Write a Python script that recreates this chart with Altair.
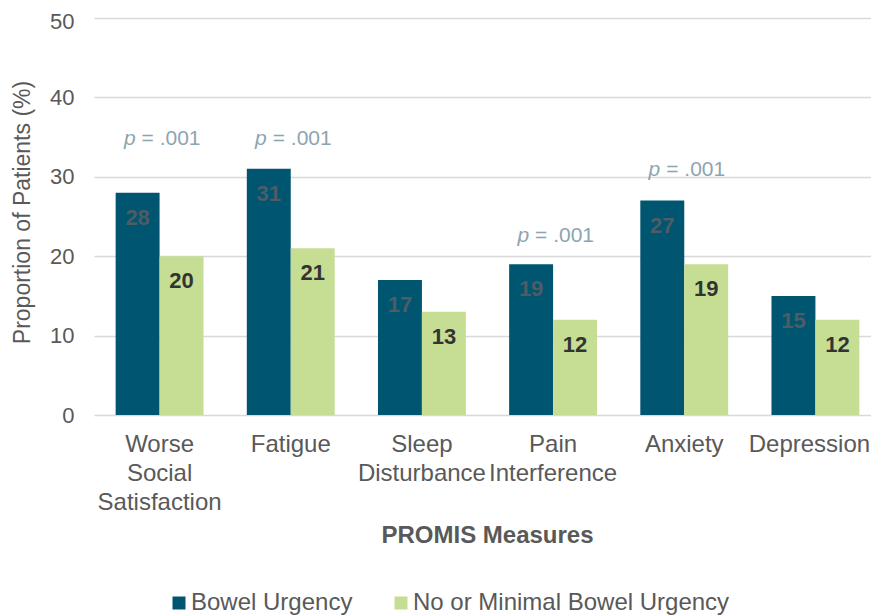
import altair as alt
import pandas as pd

# ---- data ----
categories = ["Worse|Social|Satisfaction", "Fatigue", "Sleep|Disturbance",
              "Pain|Interference", "Anxiety", "Depression"]
groups = ["Bowel Urgency", "No or Minimal Bowel Urgency"]
bowel_urgency = [28, 31, 17, 19, 27, 15]
minimal_urgency = [20, 21, 13, 12, 19, 12]

p_categories = ["Worse|Social|Satisfaction", "Fatigue", "Pain|Interference", "Anxiety"]
p_values = [".001", ".001", ".001", ".001"]
p_label_level = [34.8, 34.8, 22.5, 30.9]

colors = ["#005670", "#c6de93"]

rows = []
for c, b, m in zip(categories, bowel_urgency, minimal_urgency):
    rows.append({"category": c, "group": groups[0], "value": b})
    rows.append({"category": c, "group": groups[1], "value": m})
df = pd.DataFrame(rows)

pdf = pd.DataFrame({
    "category": p_categories,
    "level": p_label_level,
    "rest": ["= " + v for v in p_values],
    "p": ["p"] * len(p_categories),
})

FONT = "Liberation Sans"
GREY = "#595959"

x_enc = alt.X(
    "category:N", sort=categories,
    scale=alt.Scale(paddingInner=0.33, paddingOuter=0.165, range=[0, 787]),
    axis=alt.Axis(
        title="PROMIS Measures", labelAngle=0, labelFontSize=24, labelColor=GREY,
        labelFont=FONT, labelExpr="split(datum.label, '|')", labelLineHeight=29,
        labelPadding=17, labelBaseline="top", domain=False, ticks=False,
        labelOffset={"condition": {"test": "datum.value === 'Depression'", "value": -6},
                     "value": 0},
        titleFontSize=24, titleFont=FONT, titleFontWeight="bold", titleColor=GREY,
        titleX=393, titleY=120, titleBaseline="middle", titleAlign="center",
    ),
)
xo_enc = alt.XOffset("group:N", sort=groups,
                     scale=alt.Scale(paddingInner=0, paddingOuter=0))
y_enc = alt.Y(
    "value:Q", scale=alt.Scale(domain=[0, 50]),
    axis=alt.Axis(
        values=[0, 10, 20, 30, 40, 50], title="Proportion of Patients (%)",
        labelFontSize=22, labelColor=GREY, labelFont=FONT, labelPadding=20,
        labelOffset={"condition": {"test": "datum.value === 50", "value": 3},
                     "value": 0},
        domain=False, ticks=False, gridColor="#d9d9d9", gridWidth=1.5,
        titleFontSize=23, titleFont=FONT, titleFontWeight="normal", titleColor=GREY,
        titleX=-72, titleY=194, titleAngle=-90, titleBaseline="middle", titleAlign="center",
    ),
)

bars = alt.Chart(df).mark_bar().encode(
    x=x_enc, xOffset=xo_enc, y=y_enc,
    color=alt.Color("group:N", sort=groups,
                    scale=alt.Scale(domain=groups, range=colors),
                    legend=alt.Legend(title=None, orient="none", legendX=73, legendY=573,
                                      direction="horizontal", symbolType="square",
                                      symbolSize=169, symbolStrokeWidth=0,
                                      labelFontSize=24, labelFont=FONT, labelColor=GREY,
                                      labelOffset=0, columnPadding=36, labelLimit=0)),
)

labels = alt.Chart(df).mark_text(
    font=FONT, fontSize=22, fontWeight="bold", baseline="middle", dy=25
).encode(
    x=alt.X("category:N", sort=categories), xOffset=xo_enc,
    y=alt.Y("value:Q"),
    text=alt.Text("value:Q"),
    color=alt.condition("datum.group === 'Bowel Urgency'",
                        alt.value("#4e5c66"), alt.value("#333333")),
)

p_italic = alt.Chart(pdf).mark_text(
    font=FONT, fontSize=21, fontStyle="italic", align="right", baseline="middle",
    dx=-24, color="#8da4b1"
).encode(x=alt.X("category:N", sort=categories), y=alt.Y("level:Q"), text="p:N")

p_rest = alt.Chart(pdf).mark_text(
    font=FONT, fontSize=21, align="left", baseline="middle", dx=-18, color="#8da4b1"
).encode(x=alt.X("category:N", sort=categories), y=alt.Y("level:Q"), text="rest:N")

chart = alt.layer(bars, labels, p_italic, p_rest).properties(
    width=777, height=397,
    autosize=alt.AutoSizeParams(type="none"),
    padding={"left": 86, "top": 10, "right": 0, "bottom": 200},
).configure_view(stroke=None)

chart.save("out.html", embed_options={"renderer": "svg", "actions": False})
